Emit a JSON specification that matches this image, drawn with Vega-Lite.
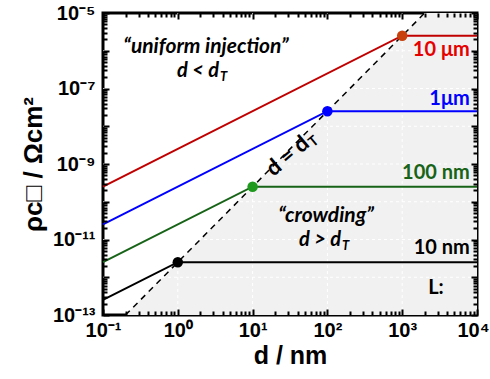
{
  "$schema": "https://vega.github.io/schema/vega-lite/v6.json",
  "width": 374,
  "height": 302,
  "autosize": {"type": "none"},
  "padding": {"left": 103, "top": 13, "right": 13, "bottom": 64},
  "background": "white",
  "config": {"view": {"stroke": "black", "strokeWidth": 3}},
  "datasets": {
    "lines": [
      {"series": "10 μm", "d": 0.1, "rho": 2.5e-10}, {"series": "10 μm", "d": 1000, "rho": 2.5e-6}, {"series": "10 μm", "d": 10000, "rho": 2.5e-6},
      {"series": "1μm", "d": 0.1, "rho": 2.5e-11}, {"series": "1μm", "d": 100, "rho": 2.5e-8}, {"series": "1μm", "d": 10000, "rho": 2.5e-8},
      {"series": "100 nm", "d": 0.1, "rho": 2.5e-12}, {"series": "100 nm", "d": 10, "rho": 2.5e-10}, {"series": "100 nm", "d": 10000, "rho": 2.5e-10},
      {"series": "10 nm", "d": 0.1, "rho": 2.5e-13}, {"series": "10 nm", "d": 1, "rho": 2.5e-12}, {"series": "10 nm", "d": 10000, "rho": 2.5e-12}
    ],
    "corners": [
      {"series": "10 μm", "d": 1000, "rho": 2.5e-6},
      {"series": "1μm", "d": 100, "rho": 2.5e-8},
      {"series": "100 nm", "d": 10, "rho": 2.5e-10},
      {"series": "10 nm", "d": 1, "rho": 2.5e-12}
    ],
    "region": [
      {"d": 0.2, "rho": 1e-13}, {"d": 2000, "rho": 1e-5}, {"d": 10000, "rho": 1e-5}
    ],
    "threshold": [
      {"d": 0.2, "rho": 1e-13}, {"d": 2000, "rho": 1e-5}
    ],
    "gridx": [{"d": 1}, {"d": 10}, {"d": 100}, {"d": 1000}],
    "gridy": [{"rho": 1e-12}, {"rho": 1e-11}, {"rho": 1e-10}, {"rho": 1e-9}, {"rho": 1e-8}, {"rho": 1e-7}, {"rho": 1e-6}],
    "serieslabels": [
      {"series": "10 μm", "d": 8000, "rho": 1.05e-6},
      {"series": "1μm", "d": 8000, "rho": 5.27e-8},
      {"series": "100 nm", "d": 8000, "rho": 5.8e-10},
      {"series": "10 nm", "d": 8000, "rho": 5.96e-12}
    ],
    "quotes": [
      {"text": "“uniform injection”", "d": 2.38, "rho": 1.26e-6},
      {"text": "“crowding”", "d": 95.8, "rho": 4.2e-11}
    ],
    "ineq": [
      {"text": "d < d", "d": 3.56, "rho": 2.91e-7},
      {"text": "d > d", "d": 152, "rho": 9.7e-12}
    ],
    "eq": [{"text": "d = d", "d": 52, "rho": 4.2e-9}],
    "ltext": [{"text": "L:", "d": 2830, "rho": 5.19e-13}]
  },
  "resolve": {"scale": {"color": "independent"}, "axis": {"x": "independent", "y": "independent"}},
  "layer": [
    {
      "data": {"name": "region"},
      "mark": {"type": "area", "color": "#f1f1f1", "opacity": 1},
      "encoding": {
        "x": {"field": "d", "type": "quantitative", "scale": {"type": "log", "domain": [0.1, 10000], "nice": false},
          "axis": {
            "orient": "bottom", "domain": false, "grid": false, "zindex": 1,
            "values": [0.1, 1, 10, 100, 1000, 10000],
            "tickColor": "black", "tickWidth": 2, "tickSize": -6,
            "labelExpr": "'10' + replace(replace(replace(replace(replace(replace(replace(replace(replace(replace(replace(toString(round(log(datum.value)/LN10)), regexp('-','g'), '⁻'), regexp('0','g'), '⁰'), regexp('1','g'), '¹'), regexp('2','g'), '²'), regexp('3','g'), '³'), regexp('4','g'), '⁴'), regexp('5','g'), '⁵'), regexp('6','g'), '⁶'), regexp('7','g'), '⁷'), regexp('8','g'), '⁸'), regexp('9','g'), '⁹')",
            "labelOffset": {"condition": {"test": "datum.value >= 9999", "value": -4}, "value": 0},
            "labelFont": "Liberation Sans", "labelFontWeight": "bold", "labelFontSize": 20, "labelColor": "black",
            "labelPadding": 11, "labelOverlap": false, "labelFlush": false,
            "title": "d / nm", "titleFont": "Liberation Sans", "titleFontSize": 25, "titleFontWeight": "bold", "titleColor": "black", "titlePadding": 3
          }},
        "y": {"field": "rho", "type": "quantitative", "scale": {"type": "log", "domain": [1e-13, 1e-5], "nice": false},
          "axis": {
            "orient": "left", "domain": false, "grid": false, "zindex": 1,
            "values": [1e-13, 1e-12, 1e-11, 1e-10, 1e-9, 1e-8, 1e-7, 1e-6, 1e-5],
            "tickColor": "black", "tickWidth": 2, "tickSize": -6,
            "labelExpr": "round(log(datum.value)/LN10) % 2 != 0 ? '10' + replace(replace(replace(replace(replace(replace(replace(replace(replace(replace(replace(toString(round(log(datum.value)/LN10)), regexp('-','g'), '⁻'), regexp('0','g'), '⁰'), regexp('1','g'), '¹'), regexp('2','g'), '²'), regexp('3','g'), '³'), regexp('4','g'), '⁴'), regexp('5','g'), '⁵'), regexp('6','g'), '⁶'), regexp('7','g'), '⁷'), regexp('8','g'), '⁸'), regexp('9','g'), '⁹') : ''",
            "labelFont": "Liberation Sans", "labelFontWeight": "bold", "labelFontSize": 20, "labelColor": "black",
            "labelPadding": 14, "labelOverlap": false, "labelFlush": false,
            "title": "ρc□ / Ωcm²", "titleFont": "Liberation Sans", "titleFontSize": 26, "titleFontWeight": "bold", "titleColor": "black", "titlePadding": 6
          }},
        "y2": {"datum": 1e-13}
      }
    },
    {
      "data": {"name": "gridx"},
      "mark": {"type": "rule", "color": "white", "strokeWidth": 1, "strokeDash": [3, 3]},
      "encoding": {
        "x": {"field": "d", "type": "quantitative", "scale": {"type": "log", "domain": [0.1, 10000], "nice": false}, "axis": null}
      }
    },
    {
      "data": {"name": "gridy"},
      "mark": {"type": "rule", "color": "white", "strokeWidth": 1, "strokeDash": [3, 3]},
      "encoding": {
        "y": {"field": "rho", "type": "quantitative", "scale": {"type": "log", "domain": [1e-13, 1e-5], "nice": false}, "axis": null}
      }
    },
    {
      "data": {"name": "threshold"},
      "mark": {"type": "line", "color": "black", "strokeWidth": 1.5, "strokeDash": [6, 5]},
      "encoding": {
        "x": {"field": "d", "type": "quantitative", "scale": {"type": "log", "domain": [0.1, 10000], "nice": false},
          "axis": {
            "orient": "top", "domain": false, "grid": false, "zindex": 1, "labels": false, "title": null,
            "values": [0.1, 1, 10, 100, 1000, 10000],
            "tickColor": "black", "tickWidth": 2, "tickSize": -6
          }},
        "y": {"field": "rho", "type": "quantitative", "scale": {"type": "log", "domain": [1e-13, 1e-5], "nice": false},
          "axis": {
            "orient": "right", "domain": false, "grid": false, "zindex": 1, "labels": false, "title": null,
            "values": [1e-13, 1e-12, 1e-11, 1e-10, 1e-9, 1e-8, 1e-7, 1e-6, 1e-5],
            "tickColor": "black", "tickWidth": 2, "tickSize": -6
          }}
      }
    },
    {
      "data": {"name": "lines"},
      "mark": {"type": "line", "strokeWidth": 2},
      "encoding": {
        "x": {"field": "d", "type": "quantitative", "scale": {"type": "log", "domain": [0.1, 10000], "nice": false},
          "axis": {
            "orient": "bottom", "domain": false, "grid": false, "zindex": 1, "labels": false, "title": null,
            "values": [0.2,0.3,0.4,0.5,0.6,0.7,0.8,0.9,2,3,4,5,6,7,8,9,20,30,40,50,60,70,80,90,200,300,400,500,600,700,800,900,2000,3000,4000,5000,6000,7000,8000,9000],
            "tickColor": "black", "tickWidth": 2, "tickSize": -4
          }},
        "y": {"field": "rho", "type": "quantitative", "scale": {"type": "log", "domain": [1e-13, 1e-5], "nice": false},
          "axis": {
            "orient": "left", "domain": false, "grid": false, "zindex": 1, "labels": false, "title": null,
            "values": [2e-13,3e-13,4e-13,5e-13,6e-13,7e-13,8e-13,9e-13,2e-12,3e-12,4e-12,5e-12,6e-12,7e-12,8e-12,9e-12,2e-11,3e-11,4e-11,5e-11,6e-11,7e-11,8e-11,9e-11,2e-10,3e-10,4e-10,5e-10,6e-10,7e-10,8e-10,9e-10,2e-9,3e-9,4e-9,5e-9,6e-9,7e-9,8e-9,9e-9,2e-8,3e-8,4e-8,5e-8,6e-8,7e-8,8e-8,9e-8,2e-7,3e-7,4e-7,5e-7,6e-7,7e-7,8e-7,9e-7,2e-6,3e-6,4e-6,5e-6,6e-6,7e-6,8e-6,9e-6],
            "tickColor": "black", "tickWidth": 2, "tickSize": -4
          }},
        "color": {"field": "series", "type": "nominal", "scale": {"domain": ["10 μm", "1μm", "100 nm", "10 nm"], "range": ["#c00000", "#0000ff", "#176317", "#000000"]}, "legend": null},
        "detail": {"field": "series"}
      }
    },
    {
      "data": {"name": "corners"},
      "mark": {"type": "circle", "size": 110, "opacity": 1},
      "encoding": {
        "x": {"field": "d", "type": "quantitative", "scale": {"type": "log", "domain": [0.1, 10000], "nice": false},
          "axis": {
            "orient": "top", "domain": false, "grid": false, "zindex": 1, "labels": false, "title": null,
            "values": [0.2,0.3,0.4,0.5,0.6,0.7,0.8,0.9,2,3,4,5,6,7,8,9,20,30,40,50,60,70,80,90,200,300,400,500,600,700,800,900,2000,3000,4000,5000,6000,7000,8000,9000],
            "tickColor": "black", "tickWidth": 2, "tickSize": -4
          }},
        "y": {"field": "rho", "type": "quantitative", "scale": {"type": "log", "domain": [1e-13, 1e-5], "nice": false},
          "axis": {
            "orient": "right", "domain": false, "grid": false, "zindex": 1, "labels": false, "title": null,
            "values": [2e-13,3e-13,4e-13,5e-13,6e-13,7e-13,8e-13,9e-13,2e-12,3e-12,4e-12,5e-12,6e-12,7e-12,8e-12,9e-12,2e-11,3e-11,4e-11,5e-11,6e-11,7e-11,8e-11,9e-11,2e-10,3e-10,4e-10,5e-10,6e-10,7e-10,8e-10,9e-10,2e-9,3e-9,4e-9,5e-9,6e-9,7e-9,8e-9,9e-9,2e-8,3e-8,4e-8,5e-8,6e-8,7e-8,8e-8,9e-8,2e-7,3e-7,4e-7,5e-7,6e-7,7e-7,8e-7,9e-7,2e-6,3e-6,4e-6,5e-6,6e-6,7e-6,8e-6,9e-6],
            "tickColor": "black", "tickWidth": 2, "tickSize": -4
          }},
        "color": {"field": "series", "type": "nominal", "scale": {"domain": ["10 μm", "1μm", "100 nm", "10 nm"], "range": ["#c8400c", "#0000ff", "#1f9a1f", "#000000"]}, "legend": null}
      }
    },
    {
      "data": {"name": "serieslabels"},
      "mark": {"type": "text", "font": "Lato", "fontWeight": "bold", "fontSize": 20, "align": "right", "baseline": "middle"},
      "encoding": {
        "x": {"field": "d", "type": "quantitative", "scale": {"type": "log", "domain": [0.1, 10000], "nice": false}, "axis": null},
        "y": {"field": "rho", "type": "quantitative", "scale": {"type": "log", "domain": [1e-13, 1e-5], "nice": false}, "axis": null},
        "text": {"field": "series"},
        "color": {"field": "series", "type": "nominal", "scale": {"domain": ["10 μm", "1μm", "100 nm", "10 nm"], "range": ["#e60000", "#0000ff", "#176317", "#000000"]}, "legend": null}
      }
    },
    {
      "data": {"name": "quotes"},
      "mark": {"type": "text", "font": "Lato", "fontWeight": "bold", "fontStyle": "italic", "fontSize": 21, "align": "center", "baseline": "middle", "color": "black"},
      "encoding": {
        "x": {"field": "d", "type": "quantitative", "scale": {"type": "log", "domain": [0.1, 10000], "nice": false}, "axis": null},
        "y": {"field": "rho", "type": "quantitative", "scale": {"type": "log", "domain": [1e-13, 1e-5], "nice": false}, "axis": null},
        "text": {"field": "text"}
      }
    },
    {
      "data": {"name": "ineq"},
      "mark": {"type": "text", "font": "Lato", "fontWeight": "bold", "fontStyle": "italic", "fontSize": 20, "align": "right", "baseline": "middle", "color": "black"},
      "encoding": {
        "x": {"field": "d", "type": "quantitative", "scale": {"type": "log", "domain": [0.1, 10000], "nice": false}, "axis": null},
        "y": {"field": "rho", "type": "quantitative", "scale": {"type": "log", "domain": [1e-13, 1e-5], "nice": false}, "axis": null},
        "text": {"field": "text"}
      }
    },
    {
      "data": {"name": "ineq"},
      "mark": {"type": "text", "font": "Lato", "fontWeight": "bold", "fontStyle": "italic", "fontSize": 13, "align": "left", "baseline": "middle", "dx": 1, "dy": 6, "color": "black"},
      "encoding": {
        "x": {"field": "d", "type": "quantitative", "scale": {"type": "log", "domain": [0.1, 10000], "nice": false}, "axis": null},
        "y": {"field": "rho", "type": "quantitative", "scale": {"type": "log", "domain": [1e-13, 1e-5], "nice": false}, "axis": null},
        "text": {"value": "T"}
      }
    },
    {
      "data": {"name": "eq"},
      "mark": {"type": "text", "font": "Lato", "fontWeight": "bold", "fontSize": 22, "align": "right", "baseline": "middle", "angle": 320, "color": "black"},
      "encoding": {
        "x": {"field": "d", "type": "quantitative", "scale": {"type": "log", "domain": [0.1, 10000], "nice": false}, "axis": null},
        "y": {"field": "rho", "type": "quantitative", "scale": {"type": "log", "domain": [1e-13, 1e-5], "nice": false}, "axis": null},
        "text": {"field": "text"}
      }
    },
    {
      "data": {"name": "eq"},
      "mark": {"type": "text", "font": "Lato", "fontWeight": "bold", "fontSize": 14, "align": "left", "baseline": "middle", "angle": 320, "dx": 1, "dy": 6, "color": "black"},
      "encoding": {
        "x": {"field": "d", "type": "quantitative", "scale": {"type": "log", "domain": [0.1, 10000], "nice": false}, "axis": null},
        "y": {"field": "rho", "type": "quantitative", "scale": {"type": "log", "domain": [1e-13, 1e-5], "nice": false}, "axis": null},
        "text": {"value": "T"}
      }
    },
    {
      "data": {"name": "ltext"},
      "mark": {"type": "text", "font": "Lato", "fontWeight": "bold", "fontSize": 20, "align": "center", "baseline": "middle", "color": "black"},
      "encoding": {
        "x": {"field": "d", "type": "quantitative", "scale": {"type": "log", "domain": [0.1, 10000], "nice": false}, "axis": null},
        "y": {"field": "rho", "type": "quantitative", "scale": {"type": "log", "domain": [1e-13, 1e-5], "nice": false}, "axis": null},
        "text": {"field": "text"}
      }
    }
  ]
}
